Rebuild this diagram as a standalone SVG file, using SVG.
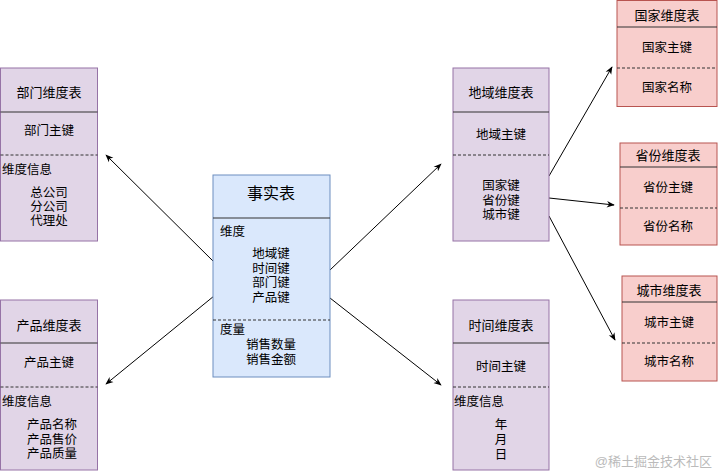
<svg xmlns="http://www.w3.org/2000/svg" width="720" height="475" viewBox="0 0 720 475">
<defs>
<style>
text{font-family:"Liberation Sans","Noto Sans CJK SC",sans-serif;font-size:12.5px;fill:#000;}
.c{text-anchor:middle}
.t{font-size:13px}
.p{fill:#e1d5e7;stroke:#9673a6;stroke-width:1}
.b{fill:#dae8fc;stroke:#6c8ebf;stroke-width:1}
.r{fill:#f8cecc;stroke:#b85450;stroke-width:1}
.sl{stroke:#333;stroke-width:1.2;fill:none}
.dl{stroke:#333;stroke-width:1;stroke-dasharray:3 2;fill:none}
.cn{stroke:#000;stroke-width:1;fill:none;marker-end:url(#ah)}
</style>
<marker id="ah" viewBox="0 0 10 10" refX="9" refY="5" markerWidth="8" markerHeight="8" orient="auto" markerUnits="userSpaceOnUse">
<path d="M0,1 L10,5 L0,9 L3,5 Z" fill="#000"/>
</marker>
</defs>
<rect width="720" height="475" fill="#fff"/>
<g id="connectors">
<line class="cn" x1="214" y1="262" x2="106" y2="155"/>
<line class="cn" x1="214" y1="296" x2="106" y2="384"/>
<line class="cn" x1="330" y1="270" x2="441" y2="164"/>
<line class="cn" x1="330" y1="298" x2="441" y2="385"/>
<line class="cn" x1="549" y1="176" x2="612" y2="67"/>
<line class="cn" x1="549" y1="198" x2="614" y2="205"/>
<line class="cn" x1="549" y1="216" x2="615" y2="340"/>
</g>
<g id="dept">
<rect class="p" x="0.5" y="68" width="97" height="173"/>
<line class="sl" x1="0.5" y1="112" x2="97.5" y2="112"/>
<line class="dl" x1="0.5" y1="155" x2="97.5" y2="155"/>
<text class="c t" x="49" y="97">部门维度表</text>
<text class="c" x="49" y="135">部门主键</text>
<text x="2" y="174">维度信息</text>
<text class="c" x="49" y="197">总公司<tspan x="49" dy="14">分公司</tspan><tspan x="49" dy="14">代理处</tspan></text>
</g>
<g id="product">
<rect class="p" x="0.5" y="300" width="97" height="170"/>
<line class="sl" x1="0.5" y1="343" x2="97.5" y2="343"/>
<line class="dl" x1="0.5" y1="387" x2="97.5" y2="387"/>
<text class="c t" x="49" y="330">产品维度表</text>
<text class="c" x="49" y="367">产品主键</text>
<text x="2" y="406">维度信息</text>
<text class="c" x="52" y="429">产品名称<tspan x="52" dy="14.5">产品售价</tspan><tspan x="52" dy="14.5">产品质量</tspan></text>
</g>
<g id="fact">
<rect class="b" x="213" y="175" width="117" height="202"/>
<line class="sl" x1="213" y1="218" x2="330" y2="218"/>
<line class="dl" x1="213" y1="320" x2="330" y2="320"/>
<text class="c" x="271" y="199" style="font-size:16px">事实表</text>
<text x="220" y="236">维度</text>
<text class="c" x="271" y="258">地域键<tspan x="271" dy="14.7">时间键</tspan><tspan x="271" dy="14.7">部门键</tspan><tspan x="271" dy="14.7">产品键</tspan></text>
<text x="220" y="334">度量</text>
<text class="c" x="271" y="349">销售数量<tspan x="271" dy="15">销售金额</tspan></text>
</g>
<g id="region">
<rect class="p" x="453" y="68" width="96" height="173"/>
<line class="sl" x1="453" y1="112" x2="549" y2="112"/>
<line class="dl" x1="453" y1="155" x2="549" y2="155"/>
<text class="c t" x="501" y="97">地域维度表</text>
<text class="c" x="501" y="139">地域主键</text>
<text class="c" x="501" y="190">国家键<tspan x="501" dy="14.5">省份键</tspan><tspan x="501" dy="14.5">城市键</tspan></text>
</g>
<g id="time">
<rect class="p" x="453" y="300" width="96" height="170"/>
<line class="sl" x1="453" y1="343" x2="549" y2="343"/>
<line class="dl" x1="453" y1="387" x2="549" y2="387"/>
<text class="c t" x="501" y="330">时间维度表</text>
<text class="c" x="501" y="371">时间主键</text>
<text x="454" y="406">维度信息</text>
<text class="c" x="501" y="429">年<tspan x="501" dy="15">月</tspan><tspan x="501" dy="15">日</tspan></text>
</g>
<g id="country">
<rect class="r" x="617" y="0.5" width="100" height="106"/>
<line class="sl" x1="617" y1="27" x2="717" y2="27"/>
<line class="dl" x1="617" y1="68" x2="717" y2="68"/>
<text class="c t" x="667" y="20">国家维度表</text>
<text class="c" x="667" y="52">国家主键</text>
<text class="c" x="667" y="92">国家名称</text>
</g>
<g id="province">
<rect class="r" x="620" y="143" width="97" height="102"/>
<line class="sl" x1="620" y1="167" x2="717" y2="167"/>
<line class="dl" x1="620" y1="208" x2="717" y2="208"/>
<text class="c t" x="668" y="160">省份维度表</text>
<text class="c" x="668" y="192">省份主键</text>
<text class="c" x="668" y="231">省份名称</text>
</g>
<g id="city">
<rect class="r" x="622" y="276" width="95" height="105"/>
<line class="sl" x1="622" y1="302" x2="717" y2="302"/>
<line class="dl" x1="622" y1="343" x2="717" y2="343"/>
<text class="c t" x="669" y="295">城市维度表</text>
<text class="c" x="669" y="327">城市主键</text>
<text class="c" x="669" y="366">城市名称</text>
</g>
<text x="712" y="466" style="font-size:13px;fill:#bbb;text-anchor:end">@稀土掘金技术社区</text>
</svg>
